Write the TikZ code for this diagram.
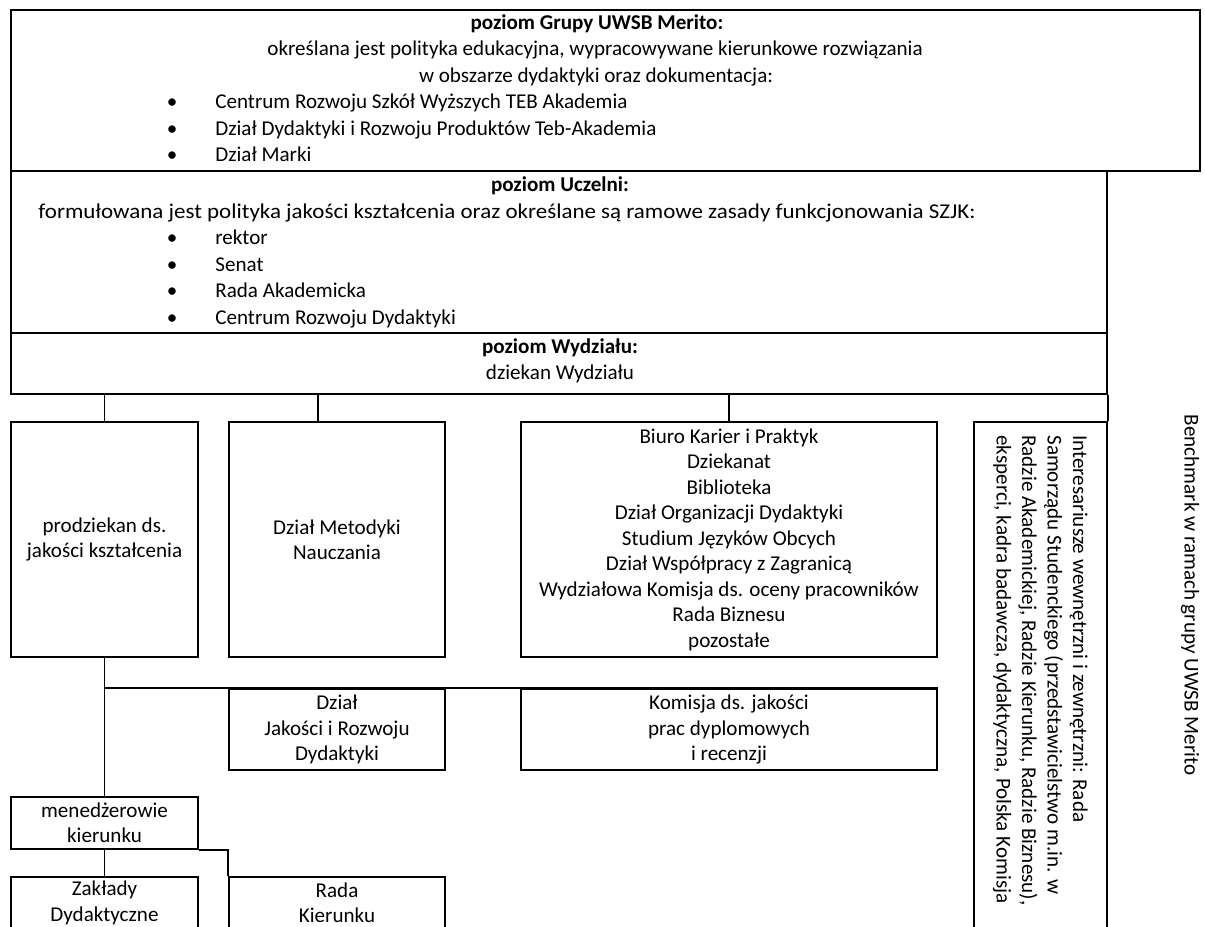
\documentclass[tikz,border=0pt,12pt]{standalone}
\usepackage{fontspec}
\setmainfont{Carlito}
\usetikzlibrary{fit,positioning}
\tikzset{
	box/.style={draw, line width=1.1pt, inner sep=0pt},
	opis/.style={inner sep=0pt, align=center},
	txt/.style={inner sep=0pt, text height=0.7em, text depth=0.2em},
	head/.style={txt, font=\bfseries},
	item/.style={txt, anchor=west},
	link/.style={line width=1.1pt}
}

\begin{document}
\begin{tikzpicture}[x=0.02cm,y=-0.02cm]
	\clip (0,0) rectangle (1205,927);

	% poziomy
	\node[box, fit={(11,10) (1200,171)}] (grupa) {};
	\node[box, fit={(11,171) (1107,333)}] (uczelnia) {};
	\node[box, fit={(11,333) (1107,394)}] (wydzial) {};

	\node[head] (hGrupa) at (597,24) {poziom Grupy UWSB Merito:};
	\node[txt] (oGrupa1) at (595,50) {określana jest polityka edukacyjna, wypracowywane kierunkowe rozwiązania};
	\node[txt] (oGrupa2) at (596,77) {w obszarze dydaktyki oraz dokumentacja:};
	\foreach \t [count=\i] in {Centrum Rozwoju Szkół Wyższych TEB Akademia, Dział Dydaktyki i Rozwoju Produktów Teb-Akademia, Dział Marki}
	{
		\node[txt] (gb\i) at (172,77+26.4*\i) {\textbullet};
		\node[item] (gt\i) at (215,77+26.4*\i) {\t};
	}

	\node[head] (hUczelnia) at (560,186) {poziom Uczelni:};
	\node[item] (oUczelnia) at (38,213) {\scalebox{1.09}[1]{formułowana jest polityka jakości kształcenia oraz określane są ramowe zasady funkcjonowania SZJK:}};
	\foreach \t [count=\i] in {rektor, Senat, Rada Akademicka, Centrum Rozwoju Dydaktyki}
	{
		\node[txt] (ub\i) at (172,213+26.5*\i) {\textbullet};
		\node[item] (ut\i) at (215,213+26.5*\i) {\t};
	}

	\node[head] (hWydzial) at (560,348) {poziom Wydziału:};
	\node[txt] (oWydzial) at (560,374) {dziekan Wydziału};

	% jednostki
	\node[box, fit={(11,422) (198,657)}] (prodziekan) {};
	\node[box, fit={(229,422) (445,657)}] (metodyka) {};
	\node[box, fit={(521,422) (937,657)}] (biuro) {};
	\node[box, fit={(229,689) (445,770)}] (jakosc) {};
	\node[box, fit={(521,689) (937,770)}] (komisja) {};
	\node[box, fit={(11,797) (198,849)}] (menedzer) {};
	\node[box, fit={(11,877) (198,929)}] (zaklady) {};
	\node[box, fit={(229,877) (445,929)}] (rada) {};
	\node[box, fit={(974,422) (1107,929)}] (interes) {};

	\node[opis] (tProdziekan) at (prodziekan) {prodziekan ds.\\jakości kształcenia};
	\node[opis] (tMetodyka) at (metodyka) {Dział Metodyki\\Nauczania};
	\node[opis] (tBiuro) at (biuro) {Biuro Karier i Praktyk\\Dziekanat\\Biblioteka\\Dział Organizacji Dydaktyki\\Studium Języków Obcych\\Dział Współpracy z Zagranicą\\Wydziałowa Komisja ds. oceny pracowników\\Rada Biznesu\\pozostałe};
	\node[opis] (tJakosc) at (jakosc) {Dział\\Jakości i Rozwoju\\Dydaktyki};
	\node[opis] (tKomisja) at (komisja) {Komisja ds. jakości\\prac dyplomowych\\i recenzji};
	\node[opis] (tMenedzer) at (menedzer) {menedżerowie\\kierunku};
	\node[opis] (tZaklady) at (zaklady) {Zakłady\\Dydaktyczne};
	\node[opis] (tRada) at (rada) {Rada\\Kierunku};

	\node[opis, rotate=-90, anchor=north west, align=left] (tInteres) at (1088,435) {Interesariusze wewnętrzni i zewnętrzni: Rada\\Samorządu Studenckiego (przedstawicielstwo m.in. w\\Radzie Akademickiej, Radzie Kierunku, Radzie Biznesu),\\eksperci, kadra badawcza, dydaktyczna, Polska Komisja};
	\node[txt, rotate=-90] (benchmark) at (1190,595) {Benchmark w ramach grupy UWSB Merito};

	% polaczenia
	\coordinate (mTop) at ([xshift=-0.38cm]metodyka.north);
	\draw[link] (wydzial.south -| prodziekan.north) -- (prodziekan.north);
	\draw[link] (wydzial.south -| mTop) -- (mTop);
	\draw[link] (wydzial.south -| biuro.north) -- (biuro.north);
	\draw[link] (wydzial.south east) -- (interes.north east);
	\draw[link] (prodziekan.south) -- (menedzer.north);
	\draw[link] (prodziekan.south |- komisja.north) -- (komisja.north east);
	\draw[link] (menedzer.south) -- (zaklady.north);
	\draw[link] (menedzer.south east) -| (rada.north west);
\end{tikzpicture}
\end{document}
